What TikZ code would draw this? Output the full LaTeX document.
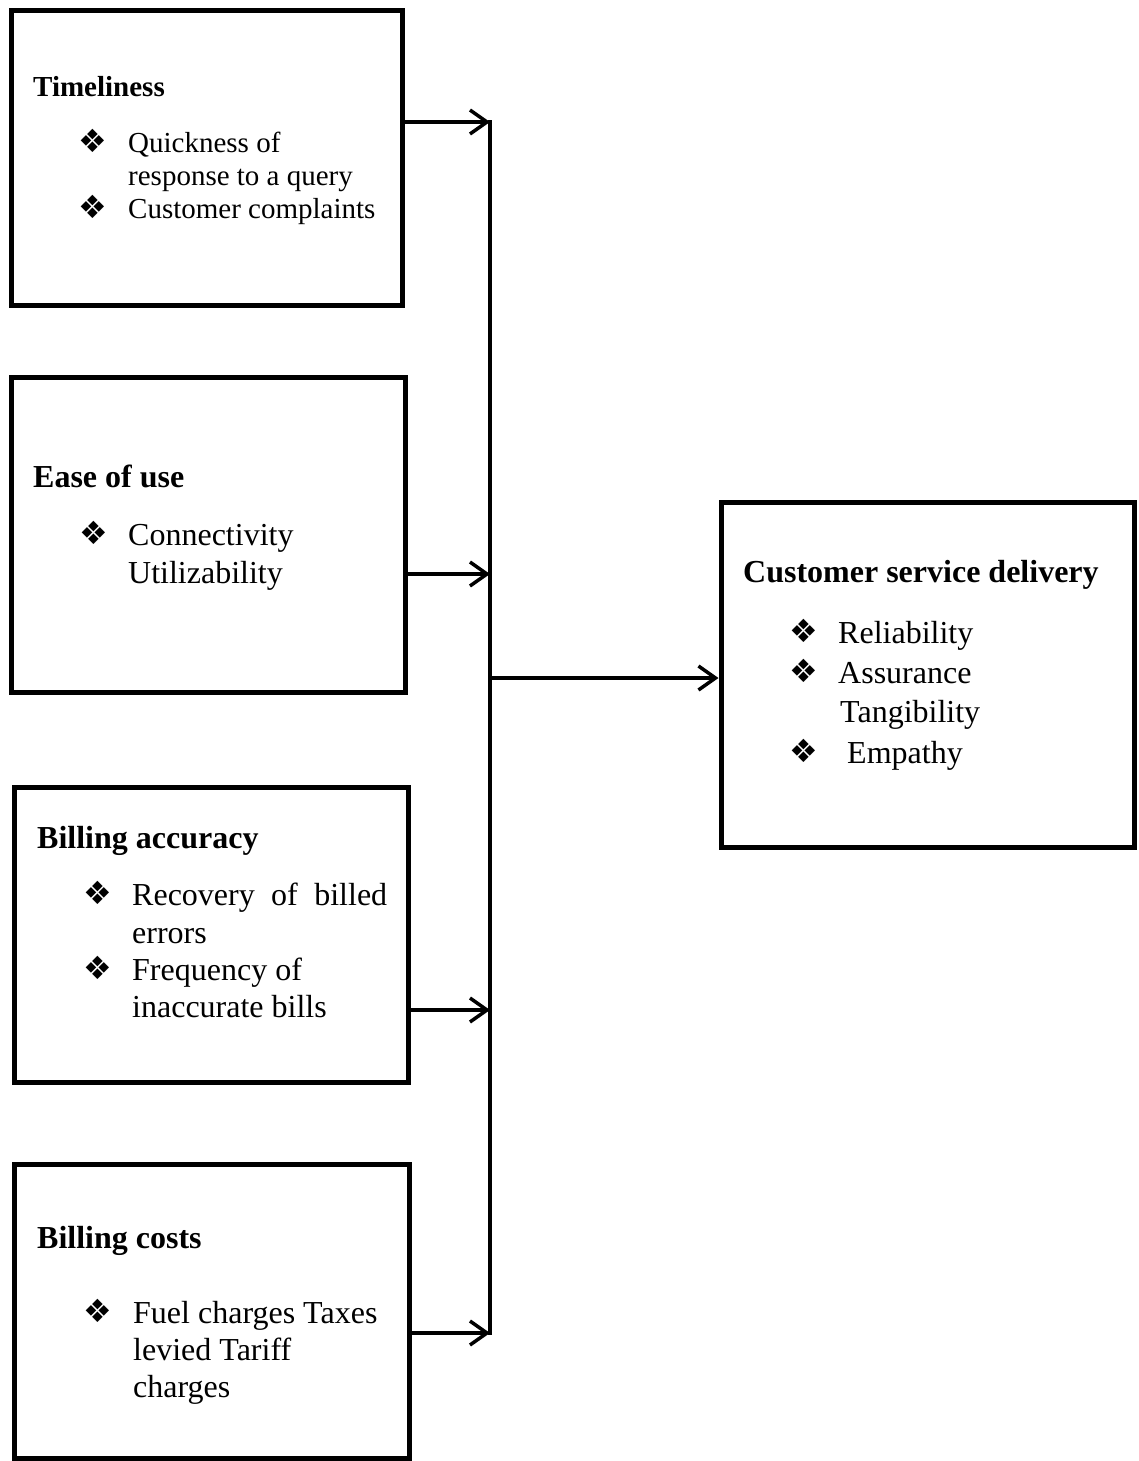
\documentclass[tikz,border=0pt]{standalone}
\usepackage{fontspec}
\setmainfont{Liberation Serif}
\newfontfamily\symfont{DejaVu Sans}
\usetikzlibrary{arrows.meta}
\tikzset{
  box/.style={draw=black, line width=5pt, rectangle, inner sep=0pt},
  conn/.style={draw=black, line width=3.5pt},
  arr/.style={conn, -{Straight Barb[length=17pt, width=24pt, line width=3.5pt]}},
  txt/.style={anchor=base west, inner sep=0pt, font=\fontsize{32pt}{37pt}\selectfont},
  txtsm/.style={anchor=base west, inner sep=0pt, font=\fontsize{29pt}{33pt}\selectfont},
  head/.style={txt, font=\fontsize{32pt}{37pt}\selectfont\bfseries},
  headsm/.style={txt, font=\fontsize{29pt}{33pt}\selectfont\bfseries},
  bul/.style={anchor=center, inner sep=0pt, font=\symfont\fontsize{32pt}{32pt}\selectfont}
}
\begin{document}
\begin{tikzpicture}[x=1pt, y=-1pt]
\fill[white] (0,0) rectangle (1138,1461);
\useasboundingbox (0,0) rectangle (1138,1461);

% boxes
\node[box, minimum width=391pt, minimum height=294pt] (b1) at (206.5,158) {};
\node[box, minimum width=394pt, minimum height=315pt] (b2) at (208,534.5) {};
\node[box, minimum width=394pt, minimum height=295pt] (b3) at (211,934.5) {};
\node[box, minimum width=395pt, minimum height=294pt] (b4) at (211.5,1311) {};
\node[box, minimum width=413pt, minimum height=345pt] (out) at (927.5,674.5) {};

% box 1
\node[headsm] (t1) at (33,97) {Timeliness};
\node[bul] (t1b1) at (93,141) {❖};
\node[txtsm] (t1l1) at (128,152) {Quickness of};
\node[txtsm] (t1l2) at (128,185) {response to a query};
\node[bul] (t1b2) at (93,207) {❖};
\node[txtsm] (t1l3) at (128,218) {Customer complaints};

% box 2
\node[head] (t2) at (33,487) {Ease of use};
\node[bul] (t2b1) at (94,533) {❖};
\node[txt] (t2l1) at (128,545) {Connectivity};
\node[txt] (t2l2) at (128,583) {Utilizability};

% box 3
\node[head] (t3) at (37,848) {Billing accuracy};
\node[bul] (t3b1) at (98,893) {❖};
\node[txt] (t3l1) at (132,905) {\makebox[255pt][s]{Recovery of billed}};
\node[txt] (t3l2) at (132,943) {errors};
\node[bul] (t3b2) at (98,968) {❖};
\node[txt] (t3l3) at (132,980) {Frequency of};
\node[txt] (t3l4) at (132,1017) {inaccurate bills};

% box 4
\node[head] (t4) at (37,1248) {Billing costs};
\node[bul] (t4b1) at (98,1311) {❖};
\node[txt] (t4l1) at (133,1323) {Fuel charges Taxes};
\node[txt] (t4l2) at (133,1360) {levied Tariff};
\node[txt] (t4l3) at (133,1397) {charges};

% output box
\node[head] (to) at (743,582) {Customer service delivery};
\node[bul] (tob1) at (804,631) {❖};
\node[txt] (tol1) at (838,643) {Reliability};
\node[bul] (tob2) at (804,671) {❖};
\node[txt] (tol2) at (838,683) {Assurance};
\node[txt] (tol3) at (840,722) {Tangibility};
\node[bul] (tob3) at (804,751) {❖};
\node[txt] (tol4) at (847,763) {Empathy};

% junction coordinates on the bus
\coordinate (j1) at (490,122);
\coordinate (j2) at (490,574);
\coordinate (j3) at (490,1010);
\coordinate (j4) at (490,1333);
\coordinate (jm) at (490,678);

\draw[conn, line cap=rect] (j1) -- (j4);
\draw[arr] (b1.east |- j1) -- (j1);
\draw[arr] (b2.east |- j2) -- (j2);
\draw[arr] (b3.east |- j3) -- (j3);
\draw[arr] (b4.east |- j4) -- (j4);
\draw[arr] (jm) -- (out.west |- jm);
\end{tikzpicture}
\end{document}
